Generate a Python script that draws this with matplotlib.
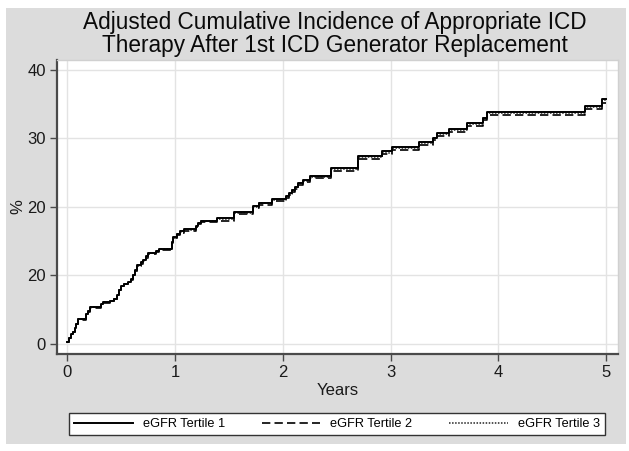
import matplotlib
matplotlib.use("Agg")
import matplotlib.pyplot as plt
from matplotlib.patches import Rectangle

plt.rcParams['font.family'] = ['Liberation Sans', 'DejaVu Sans']

# Event times (years) shared by the adjusted curves
times = [0.0, 0.02, 0.035, 0.05, 0.07, 0.085, 0.10, 0.17, 0.19, 0.21, 0.31, 0.33,
         0.40, 0.43, 0.46, 0.48, 0.50, 0.53, 0.56, 0.59, 0.61, 0.63, 0.65, 0.68,
         0.70, 0.73, 0.75, 0.82, 0.85, 0.97, 0.985, 1.02, 1.05, 1.08, 1.19, 1.21,
         1.24, 1.385, 1.545, 1.725, 1.78, 1.895, 2.03, 2.06, 2.08, 2.11, 2.14, 2.19,
         2.25, 2.45, 2.70, 2.92, 3.01, 3.265, 3.395, 3.43, 3.545, 3.705, 3.855, 3.89,
         4.80, 4.96, 5.0]

tertile1 = [0.3, 0.9, 1.4, 1.8, 2.3, 2.9, 3.6, 4.3, 4.8, 5.4, 5.9, 6.1,
            6.3, 6.6, 7.2, 7.9, 8.5, 8.8, 9.1, 9.5, 10.1, 10.8, 11.5, 11.9,
            12.3, 12.8, 13.3, 13.6, 13.9, 14.9, 15.6, 16.1, 16.4, 16.7, 17.2, 17.7,
            18.0, 18.3, 19.2, 20.1, 20.6, 21.1, 21.6, 22.0, 22.5, 22.9, 23.5, 23.9,
            24.5, 25.6, 27.4, 28.1, 28.7, 29.4, 30.1, 30.7, 31.3, 32.2, 33.0, 33.8,
            34.7, 35.7, 35.7]

tertile2 = [0.3, 0.9, 1.4, 1.8, 2.3, 2.9, 3.5, 4.2, 4.7, 5.3, 5.8, 6.0,
            6.2, 6.5, 7.1, 7.8, 8.4, 8.7, 9.0, 9.4, 10.0, 10.6, 11.3, 11.7,
            12.1, 12.6, 13.1, 13.4, 13.7, 14.7, 15.4, 15.9, 16.2, 16.5, 17.0, 17.5,
            17.8, 18.0, 18.9, 19.8, 20.3, 20.8, 21.3, 21.7, 22.2, 22.6, 23.2, 23.6,
            24.2, 25.2, 27.0, 27.7, 28.3, 29.0, 29.7, 30.3, 30.9, 31.8, 32.6, 33.4,
            34.2, 35.2, 35.2]

tertile3 = [0.3, 0.9, 1.4, 1.8, 2.3, 2.9, 3.6, 4.3, 4.8, 5.4, 5.9, 6.1,
            6.3, 6.6, 7.2, 7.9, 8.5, 8.8, 9.1, 9.5, 10.1, 10.7, 11.4, 11.8,
            12.2, 12.7, 13.2, 13.5, 13.8, 14.8, 15.5, 16.0, 16.3, 16.6, 17.1, 17.6,
            17.9, 18.2, 19.1, 20.0, 20.5, 21.0, 21.5, 21.9, 22.4, 22.8, 23.4, 23.8,
            24.4, 25.5, 27.3, 27.9, 28.6, 29.3, 30.0, 30.6, 31.2, 32.1, 32.9, 33.7,
            34.6, 35.6, 35.6]

series_labels = ['eGFR Tertile 1', 'eGFR Tertile 2', 'eGFR Tertile 3']
x_ticks = [0, 1, 2, 3, 4, 5]
y_ticks = [0, 10, 20, 30, 40]
y_tick_labels = ['0', '20', '20', '30', '40']
title = 'Adjusted Cumulative Incidence of Appropriate ICD\nTherapy After 1st ICD Generator Replacement'

W, H = 629, 451
fig = plt.figure(figsize=(W / 100, H / 100), dpi=100)
fig.patch.set_facecolor('white')
fig.patches.append(Rectangle((6 / W, 1 - 444 / H), 620 / W, 436 / H,
                             transform=fig.transFigure, facecolor='#dcdcdc',
                             edgecolor='none', zorder=-10))

ax = fig.add_axes([57 / W, 1 - 354 / H, 561 / W, 294 / H])
ax.set_facecolor('white')

axis_col = '#4a4a4a'
styles = [dict(color='black', lw=1.4, ls='-'),
          dict(color='black', lw=1.2, ls=(0, (5, 2.5))),
          dict(color='#222222', lw=1.1, ls=(0, (1, 1)))]
for ys, lab, st in zip([tertile2, tertile3, tertile1], series_labels[1:] + series_labels[:1],
                       [styles[1], styles[2], styles[0]]):
    ax.step(times, ys, where='post', label=lab, **st)

ax.set_xlim(-0.0955, 5.109)
ax.set_ylim(-1.46, 41.4)
ax.set_xticks(x_ticks)
ax.set_yticks(y_ticks)
ax.set_yticklabels(y_tick_labels)
ax.grid(True, color='#e3e3e3', lw=1.0)
ax.set_axisbelow(True)

for s in ['left', 'bottom']:
    ax.spines[s].set_color(axis_col)
    ax.spines[s].set_linewidth(1.6)
for s in ['top', 'right']:
    ax.spines[s].set_color('#d0d0d0')
    ax.spines[s].set_linewidth(1.0)

ax.tick_params(axis='both', direction='out', length=5, width=1.0, color=axis_col,
               labelsize=12, labelcolor='#1a1a1a', pad=3)

ax.set_xlabel('Years', fontsize=12, color='#1a1a1a', labelpad=2)
ax.set_ylabel('%', fontsize=12, color='#1a1a1a', labelpad=1)

fig.text((57 + 612) / 2 / W, 1 - 34 / H, title, ha='center', va='center',
         fontsize=16.3, color='#0a0a0a', linespacing=1.0)

handles, labels = ax.get_legend_handles_labels()
order = [labels.index(l) for l in series_labels]
leg = fig.legend([handles[i] for i in order], [labels[i] for i in order],
                 loc='center', bbox_to_anchor=(69 / W, 1 - 440 / H, 536 / W, 32 / H),
                 mode='expand', ncol=3, fontsize=9.2, frameon=True, fancybox=False,
                 edgecolor='#333333', facecolor='white', framealpha=1,
                 handlelength=4.6, handletextpad=0.8, borderaxespad=0, columnspacing=2)
leg.get_frame().set_linewidth(1.0)

fig.savefig('out.png', dpi=100, facecolor=fig.get_facecolor())
